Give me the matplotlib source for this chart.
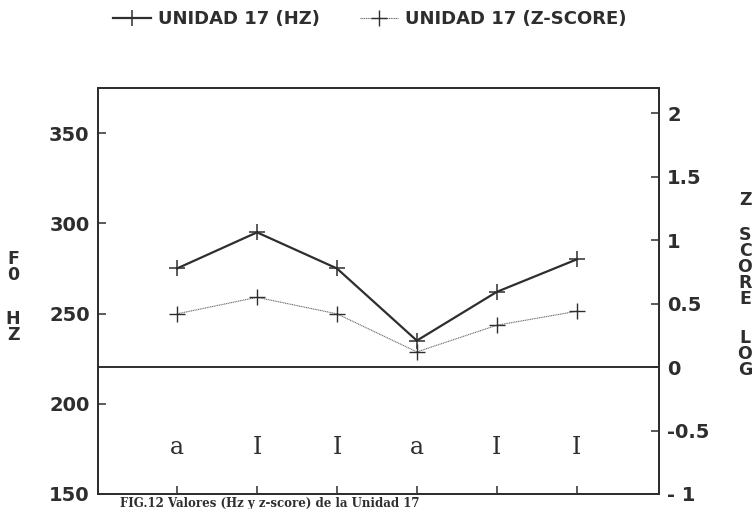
import matplotlib
matplotlib.use("Agg")
import matplotlib.pyplot as plt

# Datos (Unidad 17)
sonidos = ["a", "I", "I", "a", "I", "I"]
f0_hz = [275, 295, 275, 235, 262, 280]
z_score = [0.42, 0.55, 0.42, 0.12, 0.33, 0.44]

hz_ticks = [150, 200, 250, 300, 350]
z_ticks = [-1, -0.5, 0, 0.5, 1, 1.5, 2]
z_labels = ["- 1", "-0.5", "0", "0.5", "1", "1.5", "2"]

INK = "#2e2e2e"
SANS = "DejaVu Sans"

fig = plt.figure(figsize=(7.52, 5.09), dpi=100)
ax = fig.add_axes([0.1303, 0.0295, 0.7460, 0.7976])
ax2 = ax.twinx()

x = list(range(len(sonidos)))

l1, = ax.plot(x, f0_hz, color=INK, lw=1.6, marker="+", ms=11, mew=1.1,
              label="UNIDAD 17 (HZ)")
l2, = ax2.plot(x, z_score, color="#6a6a6a", lw=0.8, ls=(0, (1, 0.6)),
               marker="+", ms=11, mew=1.0, mec=INK,
               label="UNIDAD 17 (Z-SCORE)")

ax.set_xlim(-0.99, 6.03)
ax.set_ylim(150, 375)
ax2.set_ylim(-1, 2.2)
ax2.axhline(0, color=INK, lw=1.4)

ax.set_xticks(x)
ax.set_xticklabels([])
ax.set_yticks(hz_ticks)
ax.set_yticklabels([str(t) for t in hz_ticks])
ax2.set_yticks(z_ticks)
ax2.set_yticklabels(z_labels)

for a in (ax, ax2):
    for s in a.spines.values():
        s.set_color(INK)
        s.set_linewidth(1.3)
ax.tick_params(axis="both", direction="in", length=6, width=1.1, color=INK)
ax.tick_params(axis="y", labelsize=14, labelcolor=INK, pad=6)
ax2.tick_params(axis="y", direction="in", length=6, width=1.1, color=INK,
                labelsize=14, labelcolor=INK, pad=6)
for lab in ax.get_yticklabels() + ax2.get_yticklabels():
    lab.set_fontweight("bold")
    lab.set_family(SANS)

# etiquetas de los sonidos dentro del grafico
for xi, s in zip(x, sonidos):
    ax.text(xi, 172, s, ha="center", va="baseline", fontsize=17,
            family="DejaVu Serif", color=INK)

# titulos de ejes en vertical, letra por letra
kw = dict(ha="center", va="center", fontsize=12.5, fontweight="bold",
          family=SANS, color=INK, linespacing=0.85)
fig.text(13 / 752, 1 - 267 / 509, "F\n0", **kw)
fig.text(13 / 752, 1 - 327 / 509, "H\nZ", **kw)
fig.text(745 / 752, 1 - 200 / 509, "Z", **kw)
fig.text(745 / 752, 1 - 267 / 509, "S\nC\nO\nR\nE", **kw)
fig.text(745 / 752, 1 - 354 / 509, "L\nO\nG", **kw)

leg = fig.legend(handles=[l1, l2], loc="center", ncol=2,
                 bbox_to_anchor=(0.492, 1 - 19 / 509), frameon=False,
                 handlelength=2.1, handletextpad=0.4, columnspacing=2.2,
                 prop=dict(family=SANS, weight="bold", size=13))
for t in leg.get_texts():
    t.set_color(INK)

# pie de figura (en el original queda casi cortado por el borde)
fig.text(120 / 752, 1 - 497 / 509,
         "FIG.12 Valores (Hz y z-score) de la Unidad 17",
         ha="left", va="top", fontsize=8.5, fontweight="bold",
         family="DejaVu Serif", color=INK)

fig.savefig("out.png", dpi=100)
